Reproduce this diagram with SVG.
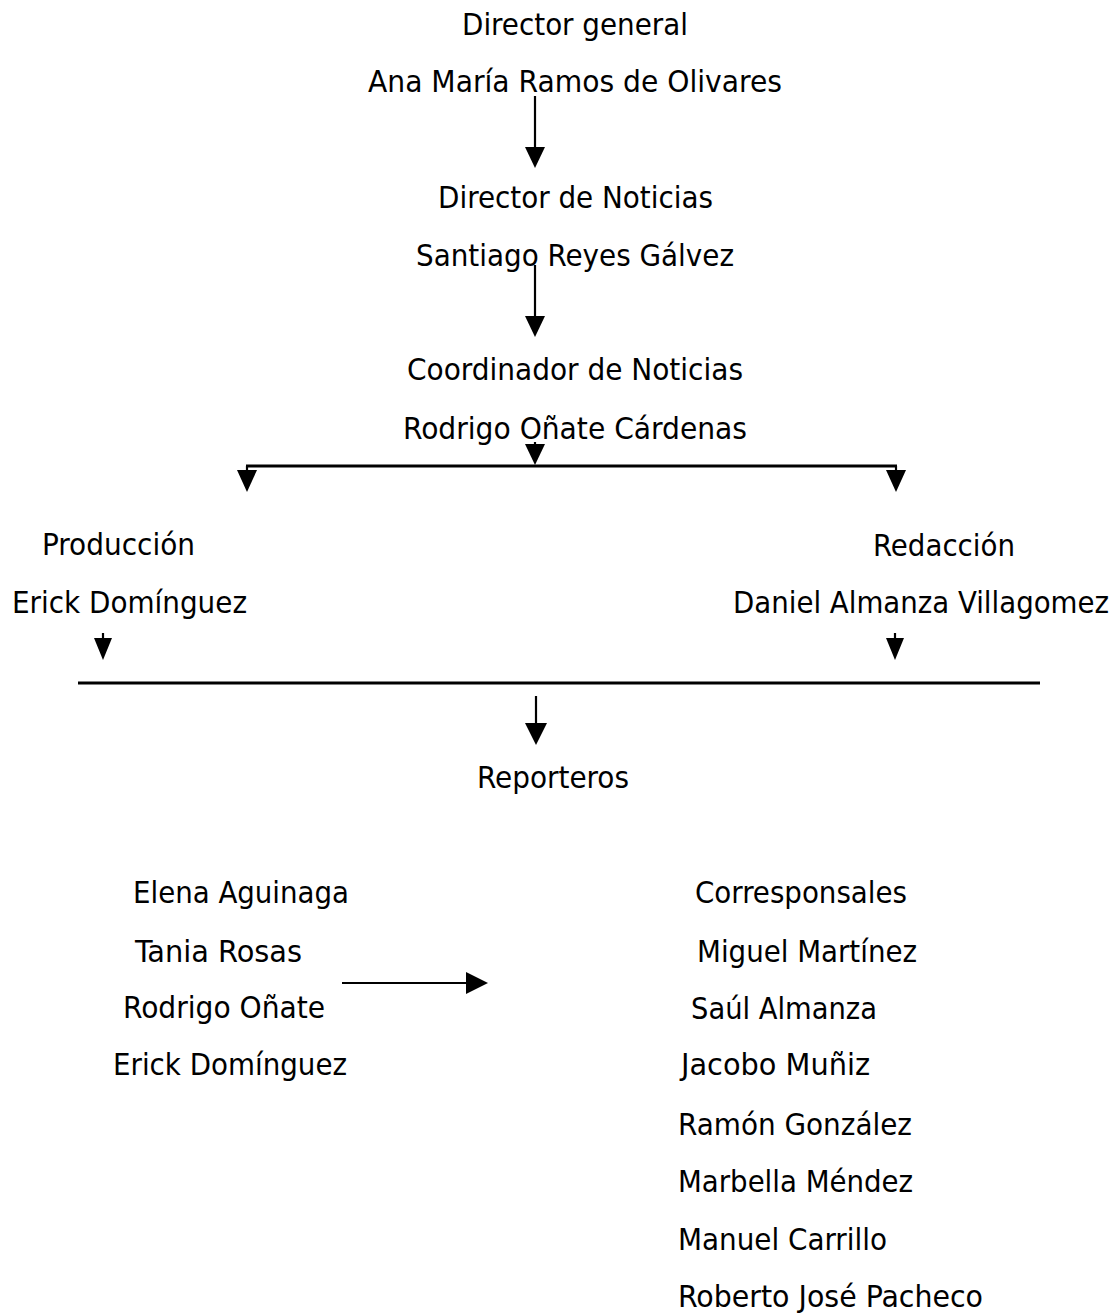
<svg xmlns="http://www.w3.org/2000/svg" width="1117" height="1313" viewBox="0 0 1117 1313">
<style>
text{font-family:"DejaVu Sans Condensed","DejaVu Sans",Tahoma,sans-serif;font-size:30px;fill:#000}
.ln{stroke:#000;stroke-width:2.2;fill:none}
.bar{stroke:#000;stroke-width:3;fill:none}
.hd{fill:#000;stroke:none}
</style>
<rect width="1117" height="1313" fill="#fff"/>
<g id="connectors">
<line class="ln" x1="535" y1="96" x2="535" y2="149"/>
<polygon class="hd" points="525,147 545,147 535,168"/>
<line class="ln" x1="535" y1="265" x2="535" y2="318"/>
<polygon class="hd" points="525,316 545,316 535,337"/>
<line class="ln" x1="535" y1="442" x2="535" y2="446"/>
<polygon class="hd" points="525,444 545,444 535,465"/>
<line class="bar" x1="246" y1="466" x2="897" y2="466"/>
<line class="ln" x1="247" y1="466" x2="247" y2="472"/>
<polygon class="hd" points="237,470 257,470 247,492"/>
<line class="ln" x1="896" y1="466" x2="896" y2="472"/>
<polygon class="hd" points="886,470 906,470 896,492"/>
<line class="ln" x1="103" y1="633" x2="103" y2="640"/>
<polygon class="hd" points="94,638 112,638 103,660"/>
<line class="ln" x1="895" y1="633" x2="895" y2="640"/>
<polygon class="hd" points="886,638 904,638 895,660"/>
<line class="bar" x1="78" y1="683" x2="1040" y2="683"/>
<line class="ln" x1="536" y1="696" x2="536" y2="725"/>
<polygon class="hd" points="525,723 547,723 536,745"/>
<line class="ln" x1="342" y1="983" x2="468" y2="983"/>
<polygon class="hd" points="466,972 466,994 488,983"/>
</g>
<g id="director-general"><text x="462" y="35" textLength="226" lengthAdjust="spacingAndGlyphs">Director general</text><text x="368" y="92" textLength="414" lengthAdjust="spacingAndGlyphs">Ana María Ramos de Olivares</text></g>
<g id="director-noticias"><text x="438" y="208" textLength="275" lengthAdjust="spacingAndGlyphs">Director de Noticias</text><text x="416" y="266" textLength="318" lengthAdjust="spacingAndGlyphs">Santiago Reyes Gálvez</text></g>
<g id="coordinador"><text x="407" y="380" textLength="336" lengthAdjust="spacingAndGlyphs">Coordinador de Noticias</text><text x="403" y="439" textLength="344" lengthAdjust="spacingAndGlyphs">Rodrigo Oñate Cárdenas</text></g>
<g id="produccion"><text x="42" y="555" textLength="153" lengthAdjust="spacingAndGlyphs">Producción</text><text x="12" y="613" textLength="235" lengthAdjust="spacingAndGlyphs">Erick Domínguez</text></g>
<g id="redaccion"><text x="873" y="556" textLength="142" lengthAdjust="spacingAndGlyphs">Redacción</text><text x="733" y="613" textLength="376" lengthAdjust="spacingAndGlyphs">Daniel Almanza Villagomez</text></g>
<g id="reporteros"><text x="477" y="788" textLength="152" lengthAdjust="spacingAndGlyphs">Reporteros</text></g>
<g id="reporteros-lista">
<text x="133" y="903" textLength="216" lengthAdjust="spacingAndGlyphs">Elena Aguinaga</text>
<text x="135" y="962" textLength="167" lengthAdjust="spacingAndGlyphs">Tania Rosas</text>
<text x="123" y="1018" textLength="202" lengthAdjust="spacingAndGlyphs">Rodrigo Oñate</text>
<text x="113" y="1075" textLength="234" lengthAdjust="spacingAndGlyphs">Erick Domínguez</text>
</g>
<g id="corresponsales">
<text x="695" y="903" textLength="212" lengthAdjust="spacingAndGlyphs">Corresponsales</text>
<text x="697" y="962" textLength="220" lengthAdjust="spacingAndGlyphs">Miguel Martínez</text>
<text x="691" y="1019" textLength="186" lengthAdjust="spacingAndGlyphs">Saúl Almanza</text>
<text x="681" y="1075" textLength="189" lengthAdjust="spacingAndGlyphs">Jacobo Muñiz</text>
<text x="678" y="1135" textLength="234" lengthAdjust="spacingAndGlyphs">Ramón González</text>
<text x="678" y="1192" textLength="235" lengthAdjust="spacingAndGlyphs">Marbella Méndez</text>
<text x="678" y="1250" textLength="209" lengthAdjust="spacingAndGlyphs">Manuel Carrillo</text>
<text x="678" y="1307" textLength="305" lengthAdjust="spacingAndGlyphs">Roberto José Pacheco</text>
</g>
</svg>
